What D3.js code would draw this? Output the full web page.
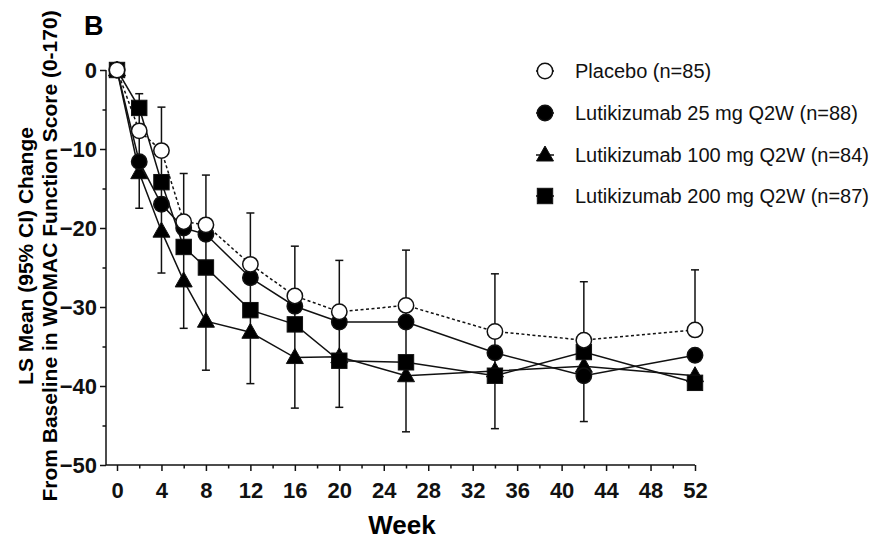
<!DOCTYPE html>
<html>
<head>
<meta charset="utf-8">
<script src="https://cdn.jsdelivr.net/npm/d3@7"></script>
<style>
  body { margin: 0; background: #fff; }
  svg { font-family: "Liberation Sans", Arial, Helvetica, sans-serif; }
  .axis text { font-weight: bold; font-size: 22px; fill: #111; }
  .axis line { stroke: #111; stroke-width: 1.5; }
</style>
</head>
<body>
<div id="chart"></div>
<script>
// Data (LS mean change from baseline)
var weeks    = [0, 2, 4, 6, 8, 12, 16, 20, 26, 34, 42, 52];
var placebo  = [0, -7.7, -10.2, -19.2, -19.6, -24.6, -28.6, -30.6, -29.8, -33.1, -34.2, -32.9];
var lut25    = [0, -11.6, -17.0, -20.0, -20.8, -26.3, -29.9, -31.9, -31.9, -35.8, -38.7, -36.1];
var lut100   = [0, -13.0, -20.4, -26.7, -31.8, -33.2, -36.4, -36.3, -38.7, -38.1, -37.5, -38.7];
var lut200   = [0, -4.8, -14.2, -22.4, -25.0, -30.4, -32.2, -36.8, -37.0, -38.7, -35.7, -39.6];
// upper CI of top curve, lower CI of bottom curve (null = not shown)
var ciUpper  = [null, -3.0, -4.7, -13.1, -13.3, -18.1, -22.3, -24.1, -22.8, -25.8, -26.8, -25.3];
var ciLower  = [null, -17.5, -25.7, -32.7, -38.0, -39.7, -42.8, -42.7, -45.8, -45.4, -44.5, null];

var seriesNames = ["Placebo (n=85)", "Lutikizumab 25 mg Q2W (n=88)",
                   "Lutikizumab 100 mg Q2W (n=84)", "Lutikizumab 200 mg Q2W (n=87)"];
var xMajor = d3.range(0, 53, 4);
var xMinor = d3.range(2, 53, 4);
var yMajor = [0, -10, -20, -30, -40, -50];
var yMinor = [-5, -15, -25, -35, -45];

var width = 888, height = 540;

var series = [
    {name: seriesNames[0], values: placebo, shape: "circle", fill: "#fff", dash: "3,2.5"},
    {name: seriesNames[1], values: lut25, shape: "circle", fill: "#000", dash: null},
    {name: seriesNames[2], values: lut100, shape: "triangle", fill: "#000", dash: null},
    {name: seriesNames[3], values: lut200, shape: "square", fill: "#000", dash: null}
];

var x = d3.scaleLinear().domain([0, 52]).range([117, 695]);
var y = d3.scaleLinear().domain([-50, 0]).range([465, 70]);
var axisX = 106;

var svg = d3.select("#chart").append("svg")
    .attr("width", width)
    .attr("height", height);

// Axes
svg.append("g").attr("class", "axis")
    .attr("transform", "translate(" + axisX + ",0)")
    .call(d3.axisLeft(y).tickValues(yMajor).tickSize(6).tickPadding(3));
svg.append("g").attr("class", "axis")
    .attr("transform", "translate(" + axisX + ",0)")
    .call(d3.axisLeft(y).tickValues(yMinor).tickSize(3.5).tickFormat(""));

svg.append("g").attr("class", "axis")
    .attr("transform", "translate(0," + y(-50) + ")")
    .call(d3.axisBottom(x).tickValues(xMajor).tickSize(6).tickPadding(11));
svg.append("g").attr("class", "axis")
    .attr("transform", "translate(0," + y(-50) + ")")
    .call(d3.axisBottom(x).tickValues(xMinor).tickSize(3.5).tickFormat(""));

svg.selectAll(".domain").remove();

svg.append("line")
    .attr("x1", axisX).attr("x2", axisX)
    .attr("y1", y(0)).attr("y2", y(-50))
    .attr("stroke", "#111").attr("stroke-width", 1.5);
svg.append("line")
    .attr("x1", axisX).attr("x2", x(52))
    .attr("y1", y(-50)).attr("y2", y(-50))
    .attr("stroke", "#111").attr("stroke-width", 1.5);

// Titles
svg.append("text")
    .attr("x", 84).attr("y", 35)
    .attr("font-size", 27).attr("font-weight", "bold")
    .text("B");

svg.append("text")
    .attr("x", 402).attr("y", 534)
    .attr("text-anchor", "middle")
    .attr("font-size", 26).attr("font-weight", "bold")
    .text("Week");

var yTitle = svg.append("text")
    .attr("transform", "translate(0,256) rotate(-90)")
    .attr("text-anchor", "middle")
    .attr("font-size", 21).attr("font-weight", "bold");
yTitle.append("tspan").attr("x", 0).attr("y", 33).text("LS Mean (95% CI) Change");
yTitle.append("tspan").attr("x", 0).attr("y", 57).text("From Baseline in WOMAC Function Score (0-170)");

// Lines
var line = d3.line()
    .x(function(d, i) { return x(weeks[i]); })
    .y(function(d) { return y(d); });

var plot = svg.append("g").attr("class", "plot");

series.forEach(function(s) {
    plot.append("path")
        .attr("d", line(s.values))
        .attr("fill", "none")
        .attr("stroke", "#111")
        .attr("stroke-width", 1.5)
        .attr("stroke-dasharray", s.dash);
});

// Error bars
weeks.forEach(function(w, i) {
    if (ciUpper[i] === null) return;
    var top = ciUpper[i];
    var bottom = ciLower[i] !== null ? ciLower[i] : placebo[i];
    var cx = x(w);
    plot.append("line")
        .attr("x1", cx).attr("x2", cx)
        .attr("y1", y(top)).attr("y2", y(bottom))
        .attr("stroke", "#111").attr("stroke-width", 1.5);
    plot.append("line")
        .attr("x1", cx - 4).attr("x2", cx + 4)
        .attr("y1", y(top)).attr("y2", y(top))
        .attr("stroke", "#111").attr("stroke-width", 1.5);
    if (ciLower[i] !== null) {
        plot.append("line")
            .attr("x1", cx - 4).attr("x2", cx + 4)
            .attr("y1", y(bottom)).attr("y2", y(bottom))
            .attr("stroke", "#111").attr("stroke-width", 1.5);
    }
});

function drawMarker(g, shape, fill, cx, cy) {
    if (shape === "circle") {
        g.append("circle")
            .attr("cx", cx).attr("cy", cy).attr("r", 7.7)
            .attr("fill", fill).attr("stroke", "#111").attr("stroke-width", 1.5);
    } else if (shape === "square") {
        g.append("rect")
            .attr("x", cx - 7.7).attr("y", cy - 7.7)
            .attr("width", 15.4).attr("height", 15.4)
            .attr("fill", fill).attr("stroke", "#111").attr("stroke-width", 1);
    } else {
        var h = 15;
        g.append("path")
            .attr("d", "M" + cx + "," + (cy - h * 0.6) +
                       "L" + (cx + 8.5) + "," + (cy + h * 0.4) +
                       "L" + (cx - 8.5) + "," + (cy + h * 0.4) + "Z")
            .attr("fill", fill).attr("stroke", "#111").attr("stroke-width", 1);
    }
}

// Markers, drawn so the overlaps stack like the original
[2, 1, 3, 0].forEach(function(k) {
    var s = series[k];
    var g = plot.append("g");
    s.values.forEach(function(v, i) {
        drawMarker(g, s.shape, s.fill, x(weeks[i]), y(v));
    });
});

// Legend
var legendY = [71, 113, 155, 196];
var legend = svg.selectAll(".legend")
    .data(series)
    .enter().append("g")
    .attr("class", "legend")
    .attr("transform", function(d, i) { return "translate(545," + legendY[i] + ")"; });

legend.append("line")
    .attr("x1", -9).attr("x2", 9)
    .attr("stroke", "#111").attr("stroke-width", 1.5)
    .attr("stroke-dasharray", function(d) { return d.dash ? "2,2" : null; });

legend.each(function(d) {
    drawMarker(d3.select(this), d.shape, d.fill, 0, 0);
});

legend.append("text")
    .attr("x", 30)
    .attr("dy", "0.35em")
    .attr("font-size", 20)
    .attr("fill", "#111")
    .text(function(d) { return d.name; });
</script>
</body>
</html>
